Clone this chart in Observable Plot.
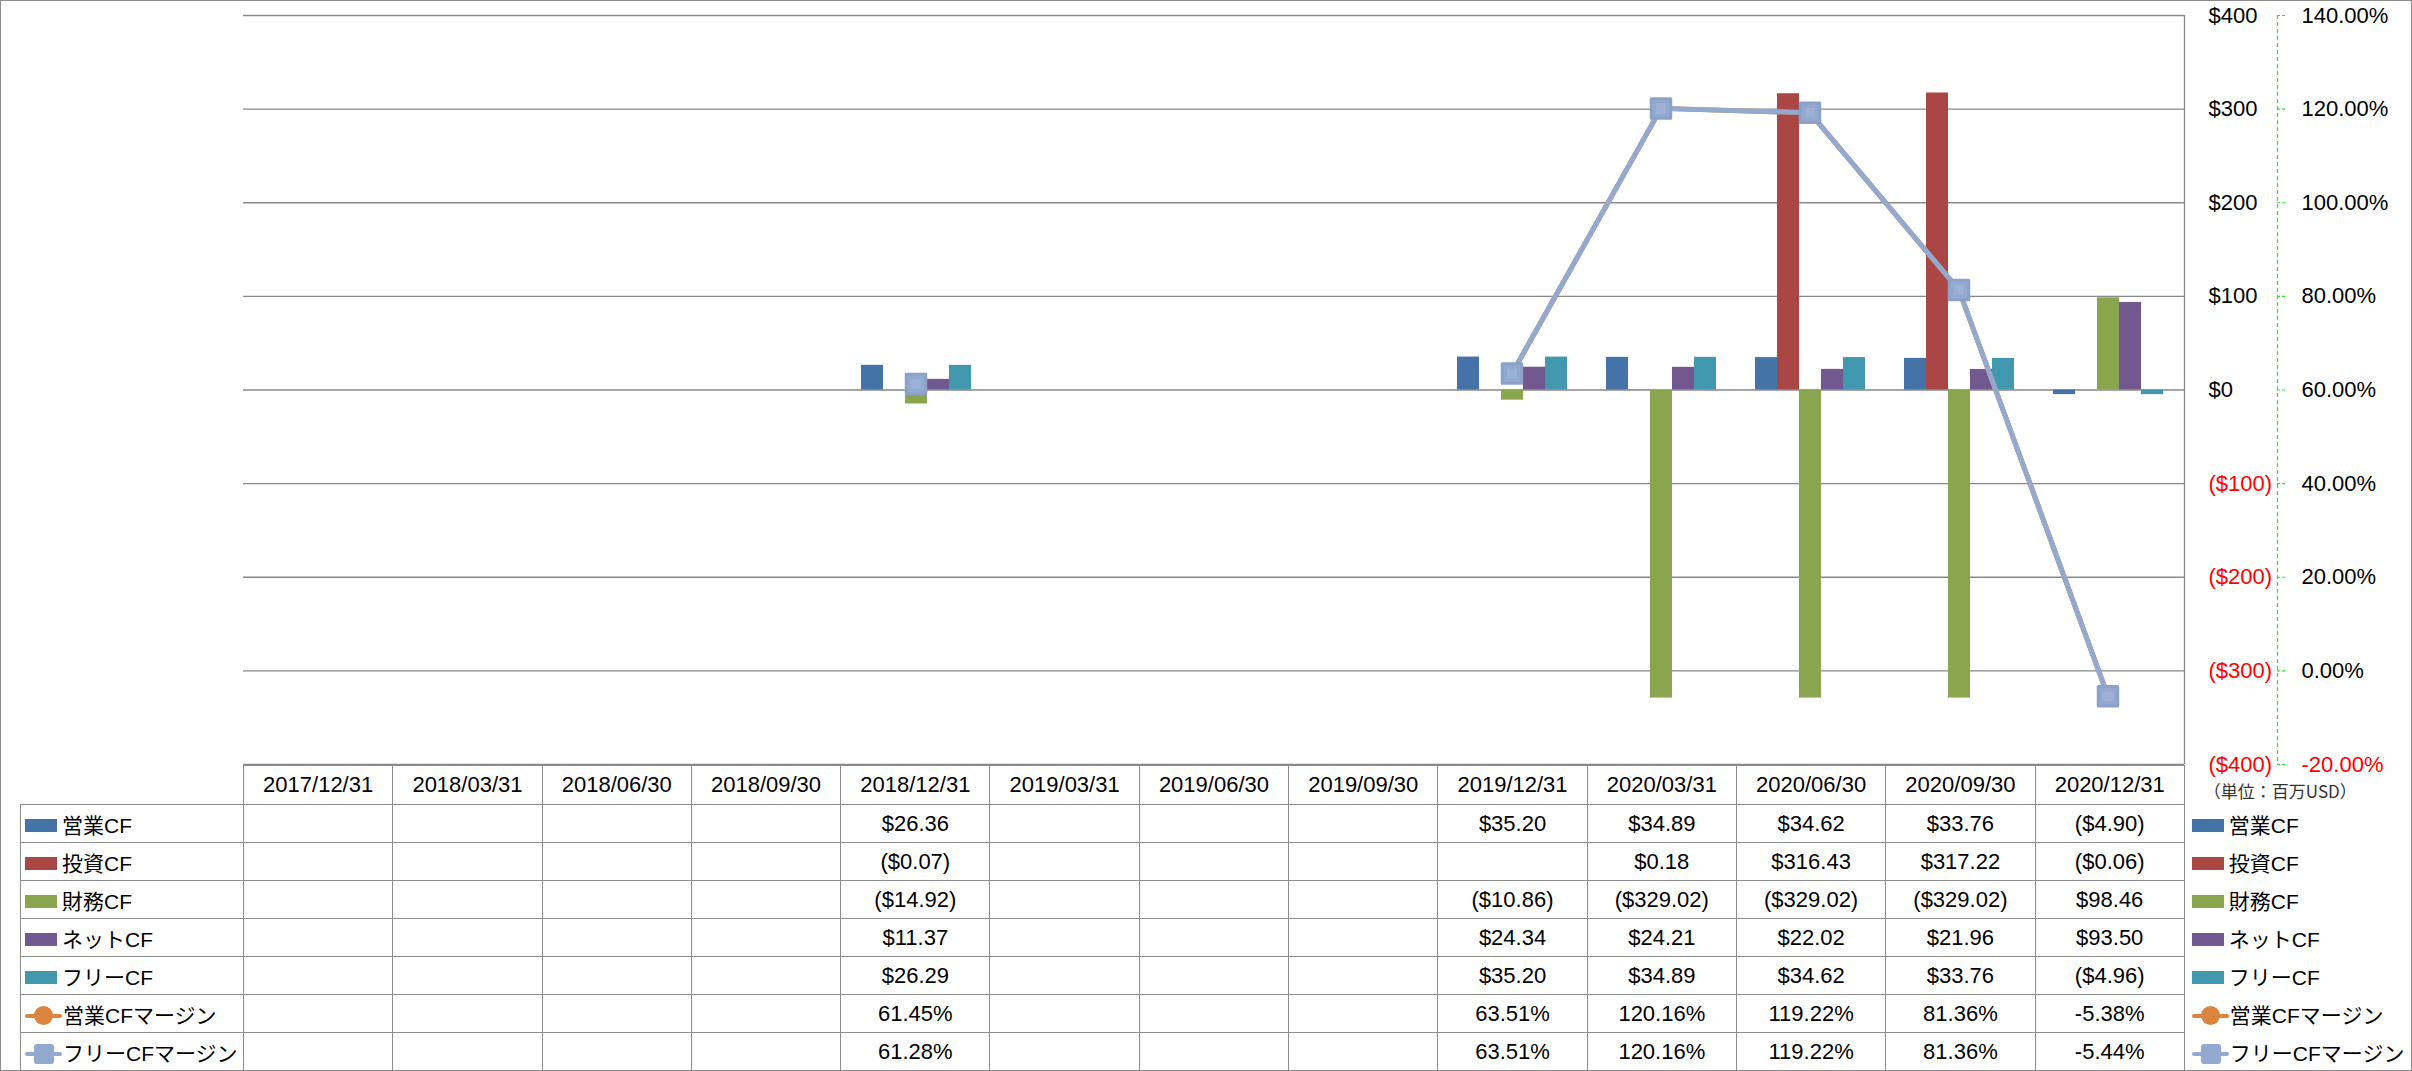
<!DOCTYPE html>
<html>
<head>
<meta charset="utf-8">
<script src="https://cdn.jsdelivr.net/npm/d3@7"></script>
<script src="https://cdn.jsdelivr.net/npm/@observablehq/plot@0.6"></script>
<style>
html, body { margin: 0; padding: 0; background: #fff; overflow: hidden; }
#chart { position: relative; width: 2412px; height: 1071px; font-family: "Liberation Sans", "Noto Sans CJK JP", sans-serif; color: #000; }
#frame { position: absolute; left: 0; top: 0; width: 2412px; height: 1071px; box-sizing: border-box; border: 1.5px solid #8c8c8c; pointer-events: none; }
#chart svg { position: absolute; left: 0; top: 0; }
#tbl { position: absolute; left: 20px; top: 765px; border-collapse: collapse; table-layout: fixed; width: 2391px; }
#tbl td { height: 37px; padding: 0; font-size: 22px; text-align: center; vertical-align: middle; white-space: nowrap; overflow: visible; }
#tbl td.c { border: 1px solid #8c8c8c; }
#tbl td.lab { border: 1px solid #8c8c8c; text-align: left; padding-left: 4px; font-size: 21px; }
#tbl td.leg { text-align: left; padding-left: 7px; font-size: 21px; }
#tbl td.unit { text-align: left; vertical-align: bottom; padding-left: 19px; padding-bottom: 2px; font-size: 17px; color: #333; font-family: "Noto Sans CJK JP", sans-serif; }
.key { display: inline-block; width: 32px; height: 13px; vertical-align: middle; margin-right: 5px; position: relative; top: -1px; }
.lkey { display: inline-block; width: 37px; height: 22px; vertical-align: middle; margin-right: 1px; position: relative; top: -1px; }
.lkey .ln { position: absolute; left: 0; top: 9px; width: 37px; height: 4px; border-radius: 2px; }
.lkey .mk { position: absolute; left: 9px; top: 1px; width: 19px; height: 19px; }
</style>
</head>
<body>
<div id="chart"></div>
<script>
// ---------- data ----------
const dates = ["2017/12/31","2018/03/31","2018/06/30","2018/09/30","2018/12/31","2019/03/31","2019/06/30","2019/09/30","2019/12/31","2020/03/31","2020/06/30","2020/09/30","2020/12/31"];
const barSeries = ["営業CF","投資CF","財務CF","ネットCF","フリーCF"];
const lineSeries = ["営業CFマージン","フリーCFマージン"];
const opCF   = [null,null,null,null,26.36,null,null,null,35.20,34.89,34.62,33.76,-4.90];
const invCF  = [null,null,null,null,-0.07,null,null,null,null,0.18,316.43,317.22,-0.06];
const finCF  = [null,null,null,null,-14.92,null,null,null,-10.86,-329.02,-329.02,-329.02,98.46];
const netCF  = [null,null,null,null,11.37,null,null,null,24.34,24.21,22.02,21.96,93.50];
const freeCF = [null,null,null,null,26.29,null,null,null,35.20,34.89,34.62,33.76,-4.96];
const opMargin  = [null,null,null,null,61.45,null,null,null,63.51,120.16,119.22,81.36,-5.38];
const fcfMargin = [null,null,null,null,61.28,null,null,null,63.51,120.16,119.22,81.36,-5.44];
const dollarTicks = [400,300,200,100,0,-100,-200,-300,-400];
const pctTicks = [140,120,100,80,60,40,20,0,-20];
const unitLabel = "（単位：百万USD）";

// ---------- styles ----------
const barColors = ["#4572A7","#AA4643","#89A54E","#71588F","#4198AF"];
const opColor = "#DB843D";
const fcfColor = "#93A9CF";
const gridColor = "#898989";
const axisGreen = "#22ee22";

const barValues = [opCF, invCF, finCF, netCF, freeCF];
const barData = [];
barSeries.forEach((s, j) => barValues[j].forEach((v, i) => { if (v !== null) barData.push({date: dates[i], series: s, value: v}); }));
const opData = dates.map((d, i) => ({date: d, v: opMargin[i]}));
const fcfData = dates.map((d, i) => ({date: d, v: fcfMargin[i]}));

const fmtDollar = v => v < 0 ? `($${Math.abs(v)})` : `$${v}`;
const fmtDollar2 = v => v < 0 ? `($${Math.abs(v).toFixed(2)})` : `$${v.toFixed(2)}`;
const fmtPct = v => `${v.toFixed(2)}%`;

// ---------- layout ----------
const W = 2412, H = 775, mT = 15, mB = 11, mL = 243, mR = 228;
const font = '"Liberation Sans", "Noto Sans CJK JP", sans-serif';
const base = {width: W, height: H, marginTop: mT, marginBottom: mB, marginLeft: mL, marginRight: mR,
  style: {background: "transparent", overflow: "visible", fontFamily: font}};
const chart = document.getElementById("chart");

// Layer 0: gridlines, right axis line, dollar labels
const layer0 = Plot.plot({...base,
  x: {domain: [0, 1], axis: null},
  y: {domain: [-400, 400], axis: null},
  marks: [
    Plot.ruleY(dollarTicks, {y: d => d, stroke: gridColor, strokeWidth: 1.3}),
    Plot.ruleX([1], {stroke: gridColor, strokeWidth: 1.3}),
    Plot.text(dollarTicks.filter(d => d >= 0), {y: d => d, text: fmtDollar, frameAnchor: "right", textAnchor: "start", dx: 24, fontSize: 22, fill: "#000"}),
    Plot.text(dollarTicks.filter(d => d < 0), {y: d => d, text: fmtDollar, frameAnchor: "right", textAnchor: "start", dx: 24, fontSize: 22, fill: "#ff0000"})
  ]
});
chart.appendChild(layer0);

// Layer 1: clustered bars
const layer1 = Plot.plot({...base,
  fx: {domain: dates, padding: 0, axis: null, label: null},
  x: {domain: barSeries, paddingInner: 0, paddingOuter: 0.746, axis: null},
  y: {domain: [-400, 400], axis: null},
  color: {domain: barSeries, range: barColors},
  marks: [
    Plot.barY(barData, {fx: "date", x: "series", y: "value", fill: "series"})
  ]
});
chart.appendChild(layer1);

// Layer 2: margin lines
const layer2 = Plot.plot({...base,
  x: {type: "band", domain: dates, padding: 0, axis: null},
  y: {domain: [-20, 140], axis: null},
  marks: [
    Plot.line(opData, {x: "date", y: "v", stroke: opColor, strokeWidth: 5}),
    Plot.dot(opData, {x: "date", y: "v", r: 9.5, fill: opColor, stroke: "#cf7a34", strokeWidth: 1}),
    Plot.line(fcfData, {x: "date", y: "v", stroke: fcfColor, strokeWidth: 5}),
    Plot.dot(fcfData, {x: "date", y: "v", symbol: "square", r: 11, fill: fcfColor, stroke: "#8aa1c9", strokeWidth: 3, strokeLinejoin: "round"}),
    Plot.dot(fcfData, {x: "date", y: "v", symbol: "square", r: 5.5, fill: "#9cb1d5"})
  ]
});
chart.appendChild(layer2);

// Layer 3: secondary (percent) axis
const layer3 = Plot.plot({width: W, height: H, marginTop: mT, marginBottom: mB, marginLeft: 2277, marginRight: 127,
  style: {background: "transparent", overflow: "visible", fontFamily: font},
  x: {domain: [0, 1], axis: null},
  y: {domain: [-20, 140], axis: null},
  marks: [
    Plot.ruleX([0], {stroke: axisGreen, strokeDasharray: "4,3", strokeWidth: 1.2}),
    Plot.ruleY(pctTicks, {y: d => d, stroke: axisGreen, strokeDasharray: "3,2", strokeWidth: 1.2}),
    Plot.text(pctTicks.filter(d => d >= 0), {y: d => d, text: fmtPct, frameAnchor: "right", textAnchor: "start", dx: 16, fontSize: 22, fill: "#000"}),
    Plot.text(pctTicks.filter(d => d < 0), {y: d => d, text: fmtPct, frameAnchor: "right", textAnchor: "start", dx: 16, fontSize: 22, fill: "#ff0000"})
  ]
});
chart.appendChild(layer3);

// ---------- data table ----------
const colW = (W - mL - mR) / dates.length;
const colWidths = [mL - 20, ...dates.map(() => colW), mR - 1];

function keyHTML(k) {
  if (k < barSeries.length) return `<span class="key" style="background:${barColors[k]}"></span>`;
  if (k === barSeries.length) return `<span class="lkey"><span class="ln" style="background:${opColor}"></span><span class="mk" style="background:${opColor};border-radius:50%"></span></span>`;
  return `<span class="lkey"><span class="ln" style="background:${fcfColor}"></span><span class="mk" style="background:${fcfColor};border-radius:3px;width:20px;height:20px;top:1px"></span></span>`;
}

let html = `<colgroup>${colWidths.map(w => `<col style="width:${w}px">`).join("")}</colgroup>`;
html += `<tr><td></td>${dates.map(d => `<td class="c">${d}</td>`).join("")}<td class="unit">${unitLabel}</td></tr>`;
const rowNames = [...barSeries, ...lineSeries];
const rowValues = [...barValues, opMargin, fcfMargin];
rowNames.forEach((name, k) => {
  const fmt = k < barSeries.length ? fmtDollar2 : fmtPct;
  html += `<tr><td class="lab">${keyHTML(k)}${name}</td>` +
    rowValues[k].map(v => `<td class="c">${v === null ? "" : fmt(v)}</td>`).join("") +
    `<td class="leg">${keyHTML(k)}${name}</td></tr>`;
});
const tbl = document.createElement("table");
tbl.id = "tbl";
tbl.innerHTML = html;
chart.appendChild(tbl);

const frame = document.createElement("div");
frame.id = "frame";
chart.appendChild(frame);
</script>
</body>
</html>
